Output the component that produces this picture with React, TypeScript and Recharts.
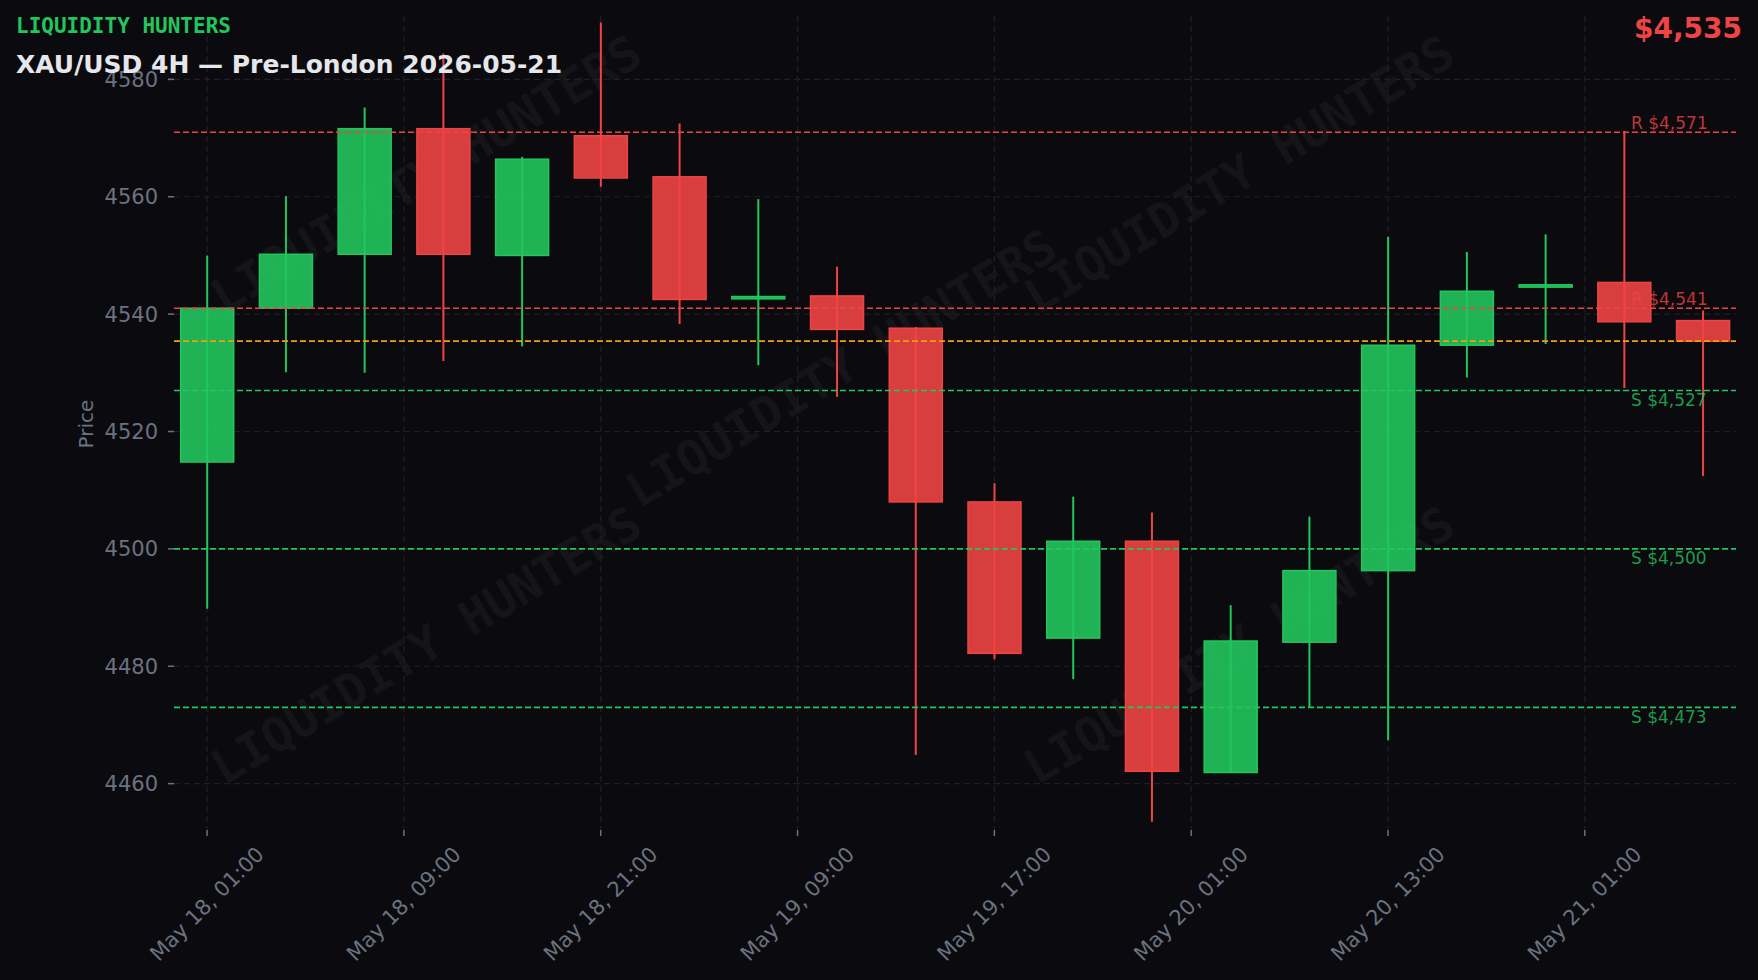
import React from 'react';
import { ComposedChart, Bar, XAxis, YAxis, CartesianGrid, ReferenceLine } from 'recharts';

// ---- data ----
const opens = [4514.8, 4541.0, 4550.2, 4571.6, 4550.0, 4570.4, 4563.4, 4542.6, 4543.1, 4537.6, 4508.0, 4484.8, 4501.3, 4461.9, 4484.1, 4496.3, 4534.7, 4544.6, 4545.4, 4538.9];
const highs = [4550.0, 4560.1, 4575.2, 4584.4, 4566.8, 4589.7, 4572.5, 4559.6, 4548.1, 4537.8, 4511.2, 4508.9, 4506.2, 4490.4, 4505.5, 4553.2, 4550.6, 4553.6, 4571.2, 4540.6];
const lows = [4489.8, 4530.1, 4530.0, 4532.0, 4534.5, 4561.7, 4538.3, 4531.3, 4525.9, 4464.9, 4481.2, 4477.8, 4453.5, 4461.9, 4473.0, 4467.4, 4529.2, 4534.9, 4527.4, 4512.4];
const closes = [4541.0, 4550.2, 4571.6, 4550.2, 4566.4, 4563.2, 4542.5, 4543.0, 4537.4, 4508.0, 4482.2, 4501.3, 4462.1, 4484.3, 4496.3, 4534.7, 4543.9, 4545.0, 4538.7, 4535.4];

const xTickPositions = [0, 2.5, 5, 7.5, 10, 12.5, 15, 17.5];
const xTickLabels = ['May 18, 01:00', 'May 18, 09:00', 'May 18, 21:00', 'May 19, 09:00', 'May 19, 17:00', 'May 20, 01:00', 'May 20, 13:00', 'May 21, 01:00'];
const yTicks = [4460, 4480, 4500, 4520, 4540, 4560, 4580];

const levelValues = [4571, 4541, 4527, 4500, 4473];
const levelKinds = ['R', 'R', 'S', 'S', 'S'];

const BRAND = 'LIQUIDITY HUNTERS';
const TITLE = 'XAU/USD 4H — Pre-London 2026-05-21';

const data = opens.map((o, i) => ({ i, open: o, high: highs[i], low: lows[i], close: closes[i] }));
const lastClose = closes[closes.length - 1];

// ---- style ----
const BG = '#0b0b0f';
const GREEN = '#22c55e';
const RED = '#ef4444';
const ORANGE = '#f59e0b';
const GRAY = '#6b7280';
const GRID = '#1e1f27';
const FONT = '"DejaVu Sans", sans-serif';
const MONO = '"DejaVu Sans Mono", monospace';

const W = 1758;
const H = 980;

const fmt = (v: number) => Math.round(v).toLocaleString('en-US');

const Candle = (props: any) => {
  const { x, y, width, height, payload } = props;
  if (x == null || y == null) return null;
  const { open, close, high, low } = payload;
  const up = close >= open;
  const color = up ? GREEN : RED;
  const top = height < 0 ? y + height : y;
  const h = Math.abs(height);
  const ratio = h / (high - low || 1);
  const yOpen = top + (high - open) * ratio;
  const yClose = top + (high - close) * ratio;
  const bTop = Math.min(yOpen, yClose);
  const bH = Math.max(Math.abs(yOpen - yClose), 1);
  const cx = x + width / 2;
  return (
    <g>
      <line x1={cx} x2={cx} y1={top} y2={top + h} stroke={color} strokeWidth={2} />
      <rect x={x} y={bTop} width={width} height={bH} fill={color} fillOpacity={0.9} stroke={color} strokeWidth={1.5} />
    </g>
  );
};

const XTick = (props: any) => {
  const { x, payload } = props;
  const idx = xTickPositions.indexOf(payload.value);
  const label = idx >= 0 ? xTickLabels[idx] : '';
  return (
    <g transform={`translate(${x},904)`}>
      <text transform="rotate(-45)" textAnchor="middle" dominantBaseline="central" fill={GRAY} fontSize={21} fontFamily={FONT}>
        {label}
      </text>
    </g>
  );
};

const levelLabel = (kind: string, value: number) => (props: any) => {
  const vb = props.viewBox || {};
  const tx = vb.x + vb.width - 105;
  const ty = kind === 'R' ? vb.y - 3 : vb.y + 15.5;
  const color = kind === 'R' ? RED : GREEN;
  return (
    <text x={tx} y={ty} fill={color} fillOpacity={0.78} fontSize={17} fontFamily={FONT}>
      {`${kind} $${fmt(value)}`}
    </text>
  );
};

const watermarkSpots = [
  [426, 174],
  [841, 368],
  [1239, 174],
  [426, 645],
  [1239, 645],
];

export default function App() {
  return (
    <div style={{ position: 'absolute', left: 0, top: 0, width: W, height: H, background: BG, overflow: 'hidden' }}>
      <svg width={W} height={H} style={{ position: 'absolute', left: 0, top: 0 }}>
        {watermarkSpots.map(([cx, cy], k) => (
          <text
            key={k}
            x={cx}
            y={cy}
            transform={`rotate(-31 ${cx} ${cy})`}
            textAnchor="middle"
            dominantBaseline="central"
            fill="#ffffff"
            fillOpacity={0.045}
            fontSize={48}
            fontWeight="bold"
            fontFamily={MONO}
          >
            {BRAND}
          </text>
        ))}
      </svg>
      <div style={{ position: 'absolute', left: 0, top: 0 }}>
        <ComposedChart width={W} height={H} data={data} margin={{ top: 16, right: 22, bottom: 0, left: 0 }}>
          <CartesianGrid stroke={GRID} strokeDasharray="6 4" strokeWidth={1.2} syncWithTicks />
          <XAxis
            type="number"
            dataKey="i"
            domain={[-0.42, 19.42]}
            ticks={xTickPositions}
            interval={0}
            height={150}
            axisLine={false}
            tickLine={{ stroke: GRAY, strokeWidth: 1.5 }}
            tickSize={6}
            tick={<XTick />}
          />
          <YAxis
            type="number"
            domain={[4452.1, 4590.8]}
            ticks={yTicks}
            interval={0}
            width={174}
            axisLine={false}
            tickLine={{ stroke: GRAY, strokeWidth: 1.5 }}
            tickSize={6}
            tickMargin={10}
            tick={{ fill: GRAY, fontSize: 21, fontFamily: FONT }}
          />
          {levelValues.map((v, k) => (
            <ReferenceLine
              key={`lvl${k}`}
              y={v}
              stroke={levelKinds[k] === 'R' ? RED : GREEN}
              strokeDasharray="6 3"
              strokeWidth={1.6}
              label={levelLabel(levelKinds[k], v)}
            />
          ))}
          <ReferenceLine y={lastClose} stroke={ORANGE} strokeDasharray="6 3" strokeWidth={1.6} />
          <Bar dataKey={(d: any) => [d.low, d.high]} barSize={53} shape={<Candle />} isAnimationActive={false} />
        </ComposedChart>
      </div>
      <svg width={W} height={H} style={{ position: 'absolute', left: 0, top: 0, pointerEvents: 'none' }}>
        <text x={16} y={33} fill={GREEN} fontSize={21} fontWeight="bold" fontFamily={MONO}>
          {BRAND}
        </text>
        <text x={16} y={73} fill="#e5e7eb" fontSize={25} fontWeight="bold" fontFamily={FONT}>
          {TITLE}
        </text>
        <text x={1742} y={38} textAnchor="end" fill={RED} fontSize={28} fontWeight="bold" fontFamily={FONT}>
          {`$${fmt(lastClose)}`}
        </text>
        <text
          x={86}
          y={424}
          transform="rotate(-90 86 424)"
          textAnchor="middle"
          dominantBaseline="central"
          fill={GRAY}
          fontSize={20}
          fontFamily={FONT}
        >
          Price
        </text>
      </svg>
    </div>
  );
}
